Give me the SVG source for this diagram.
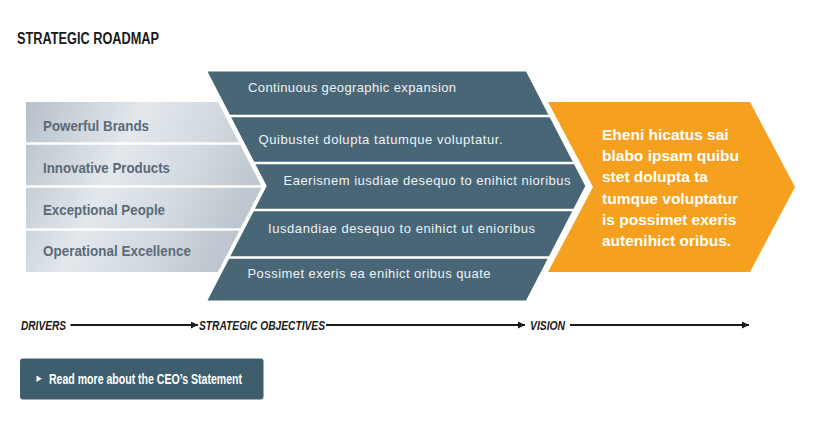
<svg xmlns="http://www.w3.org/2000/svg" width="820" height="430" viewBox="0 0 820 430">
  <defs>
    <linearGradient id="steel" x1="0" y1="0" x2="1" y2="0.35">
      <stop offset="0" stop-color="#b6c0c9"/>
      <stop offset="0.45" stop-color="#e2e8ec"/>
      <stop offset="0.75" stop-color="#d2d9df"/>
      <stop offset="1" stop-color="#bec7cf"/>
    </linearGradient>
    <clipPath id="objClip">
      <polygon points="205,70 527,70 587,186 527,302 205,302 265,186"/>
    </clipPath>
    <clipPath id="drvClip">
      <polygon points="26,102 218,102 262,187 218,272 26,272"/>
    </clipPath>
    <marker id="arrow" viewBox="0 0 10 10" refX="10" refY="5" markerWidth="7" markerHeight="7" markerUnits="userSpaceOnUse" orient="auto">
      <path d="M0,0 L10,5 L0,10 z" fill="#1a1a1a"/>
    </marker>
    <style>
      .title { font-family: "Liberation Sans", Arial, sans-serif; font-weight: bold; font-size: 16px; fill: #1a1a1a; }
      .driver { font-family: "Liberation Sans", Arial, sans-serif; font-weight: bold; font-size: 15.5px; fill: #5a6a77; }
      .obj { font-family: "Liberation Sans", Arial, sans-serif; font-size: 13px; fill: #eef3f5; }
      .vision { font-family: "Liberation Sans", Arial, sans-serif; font-weight: bold; font-size: 15.5px; fill: #ffffff; }
      .axis { font-family: "Liberation Sans", Arial, sans-serif; font-weight: bold; font-style: italic; font-size: 12.5px; fill: #1a1a1a; }
      .axisline { stroke: #1a1a1a; stroke-width: 2; fill: none; marker-end: url(#arrow); }
      .sep { stroke: #ffffff; stroke-width: 2.5; }
      .btntext { font-family: "Liberation Sans", Arial, sans-serif; font-weight: bold; font-size: 14.5px; fill: #ffffff; }
    </style>
  </defs>

  <rect width="820" height="430" fill="#ffffff"/>

  <text class="title" x="17" y="43.5" textLength="142" lengthAdjust="spacingAndGlyphs">STRATEGIC ROADMAP</text>

  <!-- Drivers chevron -->
  <g id="drivers">
    <polygon points="26,102 218,102 262,187 218,272 26,272" fill="url(#steel)"/>
    <g clip-path="url(#drvClip)">
      <line class="sep" x1="20" y1="143.5" x2="270" y2="143.5"/>
      <line class="sep" x1="20" y1="186.5" x2="270" y2="186.5"/>
      <line class="sep" x1="20" y1="229.5" x2="270" y2="229.5"/>
    </g>
    <text class="driver" x="43" y="131" textLength="106" lengthAdjust="spacingAndGlyphs">Powerful Brands</text>
    <text class="driver" x="43" y="172.5" textLength="127" lengthAdjust="spacingAndGlyphs">Innovative Products</text>
    <text class="driver" x="43" y="214.5" textLength="122" lengthAdjust="spacingAndGlyphs">Exceptional People</text>
    <text class="driver" x="43" y="256" textLength="148" lengthAdjust="spacingAndGlyphs">Operational Excellence</text>
  </g>

  <!-- Strategic objectives chevron -->
  <g id="objectives">
    <polygon points="205,70 527,70 587,186 527,302 205,302 265,186" fill="#496677" stroke="#ffffff" stroke-width="3" stroke-linejoin="miter"/>
    <g clip-path="url(#objClip)">
      <line class="sep" x1="200" y1="116" x2="600" y2="116"/>
      <line class="sep" x1="200" y1="163" x2="600" y2="163"/>
      <line class="sep" x1="200" y1="210" x2="600" y2="210"/>
      <line class="sep" x1="200" y1="257.5" x2="600" y2="257.5"/>
    </g>
    <text class="obj" x="248" y="92.3" textLength="208">Continuous geographic expansion</text>
    <text class="obj" x="258.5" y="144" textLength="244">Quibustet dolupta tatumque voluptatur.</text>
    <text class="obj" x="283.5" y="185" textLength="287">Eaerisnem iusdiae desequo to enihict nioribus</text>
    <text class="obj" x="268" y="232.5" textLength="267">Iusdandiae desequo to enihict ut enioribus</text>
    <text class="obj" x="247.5" y="278.3" textLength="243">Possimet exeris ea enihict oribus quate</text>
  </g>

  <!-- Vision chevron -->
  <g id="vision">
    <polygon points="548,102 750,102 795,187 750,272 548,272 593,187" fill="#f6a01f"/>
    <text class="vision" x="602" y="140">Eheni hicatus sai</text>
    <text class="vision" x="602" y="161">blabo ipsam quibu</text>
    <text class="vision" x="602" y="182">stet dolupta ta</text>
    <text class="vision" x="602" y="203.5">tumque voluptatur</text>
    <text class="vision" x="602" y="224.5">is possimet exeris</text>
    <text class="vision" x="602" y="245.5">autenihict oribus.</text>
  </g>

  <!-- Timeline axis -->
  <g id="connectors">
    <line class="axisline" x1="70.5" y1="325" x2="198" y2="325"/>
    <line class="axisline" x1="326" y1="325" x2="525" y2="325"/>
    <line class="axisline" x1="570" y1="325" x2="749" y2="325"/>
  </g>
  <g id="axis-labels">
    <text class="axis" x="21" y="329.5" textLength="45" lengthAdjust="spacingAndGlyphs">DRIVERS</text>
    <text class="axis" x="199" y="329.5" textLength="126" lengthAdjust="spacingAndGlyphs">STRATEGIC OBJECTIVES</text>
    <text class="axis" x="530" y="329.5" textLength="35" lengthAdjust="spacingAndGlyphs">VISION</text>
  </g>

  <!-- Call-to-action button -->
  <g id="ceo-button">
    <rect x="20" y="358.5" width="243.5" height="41" rx="3" ry="3" fill="#3e5e6e"/>
    <polygon points="36.5,375.5 41.8,378.7 36.5,382" fill="#ffffff"/>
    <text class="btntext" x="49" y="383.5" textLength="193" lengthAdjust="spacingAndGlyphs">Read more about the CEO’s Statement</text>
  </g>
</svg>
